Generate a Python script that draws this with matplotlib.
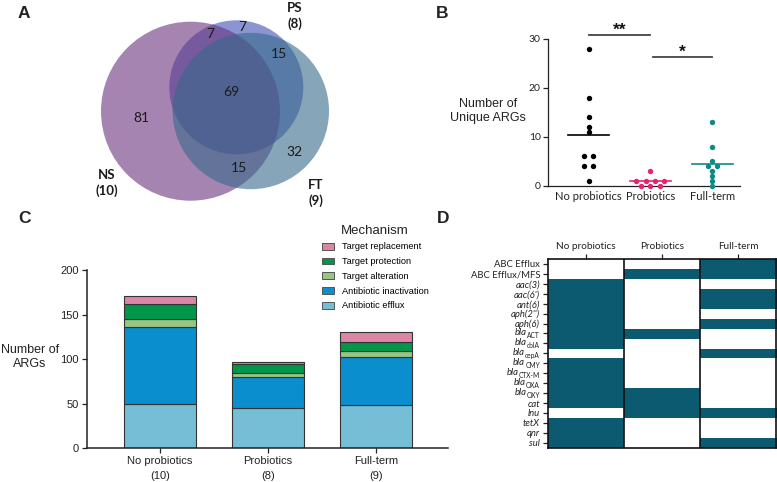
import numpy as np
import matplotlib
matplotlib.use("Agg")
import matplotlib.pyplot as plt
from matplotlib.patches import Circle, Patch
from matplotlib.colors import ListedColormap

plt.rcParams['font.family'] = ['Lato', 'DejaVu Sans']

W, H = 777, 482

# --- A: Venn diagram of shared ARGs
venn_sets = ['NS', 'PS', 'FT']
venn_sizes = [10, 8, 9]
venn_regions = ['NS', 'NS&PS', 'PS', 'NS&PS&FT', 'PS&FT', 'NS&FT', 'FT']
venn_counts = [81, 7, 7, 69, 15, 15, 32]

# --- B: unique ARGs per infant
groups = ['No probiotics', 'Probiotics', 'Full-term']
unique_np = [28, 18, 14, 12, 11, 6, 6, 4, 4, 1]
unique_pro = [3, 1, 1, 1, 1, 0, 0, 0]
unique_ft = [13, 8, 5, 4, 4, 3, 2, 1, 0]

# --- C: ARGs by mechanism
group_n = [10, 8, 9]
mechanisms = ['Antibiotic efflux', 'Antibiotic inactivation', 'Target alteration',
              'Target protection', 'Target replacement']
efflux = [50, 45, 49]
inactivation = [86, 35, 53]
alteration = [9, 5, 7]
protection = [17, 9, 10]
replacement = [9, 3, 11]

# --- D: presence / absence of ARG families
genes = ['ABC Efflux', 'ABC Efflux/MFS', 'aac(3)', "aac(6')", 'ant(6)', "aph(2'')",
         'aph(6)', 'blaACT', 'blacblA', 'blacepA', 'blaCMY', 'blaCTX-M', 'blaOXA',
         'blaOXY', 'cat', 'lnu', 'tetX', 'qnr', 'sul']
present_np = [0, 0, 1, 1, 1, 1, 1, 1, 1, 0, 1, 1, 1, 1, 1, 0, 1, 1, 1]
present_pro = [0, 1, 0, 0, 0, 0, 0, 1, 0, 0, 0, 0, 0, 1, 1, 1, 0, 0, 0]
present_ft = [1, 1, 0, 1, 1, 0, 1, 0, 0, 1, 0, 0, 0, 0, 0, 1, 0, 0, 1]

fig = plt.figure(figsize=(W / 100, H / 100), dpi=100)


def px_axes(x0, y0, x1, y1):
    return fig.add_axes([x0 / W, 1 - y1 / H, (x1 - x0) / W, (y1 - y0) / H])


def panel_label(x, y, s):
    fig.text(x / W, 1 - y / H, s, fontsize=12.5, fontweight='bold', va='top',
             family='Liberation Sans', color='#222222')


# ---------------- A
axA = px_axes(0, 0, 400, 215)
axA.set_xlim(0, 400)
axA.set_ylim(215, 0)
axA.axis('off')
circ = {'PS': ((236.3, 87.3), 67, '#192DA5', 0.5, 1),
        'NS': ((190.5, 111.2), 89.5, '#69327F', 0.6, 2),
        'FT': ((250.8, 111.0), 78.2, '#37698A', 0.6, 3)}
for name in venn_sets:
    c, r, col, a, z = circ[name]
    axA.add_patch(Circle(c, r, facecolor=col, alpha=a, edgecolor='none', zorder=z))
region_xy = {'NS': (141, 118), 'NS&PS': (210.7, 33.5), 'PS': (242, 27),
             'NS&PS&FT': (231.7, 92), 'PS&FT': (278.7, 53.5), 'NS&FT': (239, 168.5),
             'FT': (294, 151.5)}
for reg, cnt in zip(venn_regions, venn_counts):
    x, y = region_xy[reg]
    axA.text(x, y, str(cnt), ha='center', va='center', fontsize=10, color='#1a1a1a', zorder=5)
set_xy = {'NS': (107, 183), 'PS': (295, 16), 'FT': (316, 193)}
for name, n in zip(venn_sets, venn_sizes):
    x, y = set_xy[name]
    axA.text(x, y, f'{name}\n({n})', ha='center', va='center', fontsize=9.5,
             fontweight='bold', color='#1a1a1a', linespacing=1.25, zorder=5)
panel_label(18, 6, 'A')

# ---------------- B
b_colors = ['black', '#E8226F', '#0E8A84']
axB = px_axes(547.7, 39, 740, 185.7)
for i, (vals, col) in enumerate(zip([unique_np, unique_pro, unique_ft], b_colors)):
    vals = np.array(vals)
    xs = np.zeros(len(vals))
    for v in np.unique(vals):
        idx = np.where(vals == v)[0]
        xs[idx] = (np.arange(len(idx)) - (len(idx) - 1) / 2) * 0.15
    axB.scatter(i + xs, vals, s=15, color=col, linewidths=0, zorder=3, clip_on=False)
    m = vals.mean()
    axB.plot([i - 0.33, i + 0.33], [m, m], color=col, lw=1.2, zorder=2)
axB.set_xlim(-0.66, 2.45)
axB.set_ylim(0, 30)
axB.set_yticks([0, 10, 20, 30])
axB.set_xticks(range(3))
axB.set_xticklabels(groups, fontsize=8, color='#222222')
axB.tick_params(axis='x', length=0, pad=4)
axB.tick_params(axis='y', length=3.5, width=0.9, labelsize=7.5, pad=1.5, colors='#222222')
for s in ['top', 'right']:
    axB.spines[s].set_visible(False)
for s in ['left', 'bottom']:
    axB.spines[s].set_linewidth(0.9)
    axB.spines[s].set_color('#222222')
axB.plot([0, 1], [30.9, 30.9], color='#444444', lw=1.3, clip_on=False)
axB.plot([1.05, 2.0], [26.4, 26.4], color='#444444', lw=1.3, clip_on=False)
axB.text(0.5, 30.9, '**', ha='center', va='baseline', fontsize=12.5, fontweight='bold',
         family='Liberation Sans', color='#111111')
axB.text(1.52, 26.4, '*', ha='center', va='baseline', fontsize=12.5, fontweight='bold',
         family='Liberation Sans', color='#111111')
fig.text(488 / W, 1 - 111 / H, 'Number of\nUnique ARGs', ha='center', va='center',
         fontsize=9, family='Liberation Sans', color='#222222', linespacing=1.15)
panel_label(436, 6, 'B')

# ---------------- C
c_colors = ['#76BED6', '#0A8ECE', '#98C583', '#00974A', '#DC86A7']
axC = px_axes(86.7, 270, 448, 448.3)
bottom = np.zeros(3)
for vals, col in zip([efflux, inactivation, alteration, protection, replacement], c_colors):
    axC.bar(range(3), vals, bottom=bottom, width=0.66, color=col,
            edgecolor='#333333', linewidth=0.8, zorder=2)
    bottom += np.array(vals)
axC.set_xlim(-0.68, 2.667)
axC.set_ylim(0, 200)
axC.set_yticks([0, 50, 100, 150, 200])
axC.set_xticks(range(3))
axC.set_xticklabels([f'{g}\n({n})' for g, n in zip(groups, group_n)],
                    fontsize=8, family='Liberation Sans', linespacing=1.6)
for lbl in axC.get_yticklabels():
    lbl.set_family('Liberation Sans')
axC.tick_params(axis='both', length=3.5, width=0.9, labelsize=8, pad=2, colors='#222222')
for s in ['top', 'right']:
    axC.spines[s].set_visible(False)
for s in ['left', 'bottom']:
    axC.spines[s].set_linewidth(1.1)
    axC.spines[s].set_color('#222222')
fig.text(30 / W, 1 - 357 / H, 'Number of\nARGs', ha='center', va='center',
         fontsize=9, family='Liberation Sans', color='#222222', linespacing=1.15)
handles = [Patch(facecolor=c, edgecolor='#555555', linewidth=0.7, label=m)
           for m, c in zip(mechanisms[::-1], c_colors[::-1])]
leg = axC.legend(handles=handles, title='Mechanism', loc='upper left',
                 bbox_to_anchor=(317 / W, 1 - 220 / H), bbox_transform=fig.transFigure,
                 frameon=False, borderpad=0, handlelength=1.3, handleheight=0.75,
                 handletextpad=0.85, labelspacing=0.62,
                 prop={'family': 'Liberation Sans', 'size': 6.7},
                 title_fontproperties={'family': 'Liberation Sans', 'size': 9.5})
leg.get_title().set_color('#222222')
panel_label(18, 211, 'C')

# ---------------- D
mat = np.array([present_np, present_pro, present_ft]).T
axD = px_axes(547.7, 259, 776, 447.7)
axD.imshow(mat, cmap=ListedColormap(['white', '#0B5A70']), aspect='auto',
           interpolation='nearest', vmin=0, vmax=1)
for xv in [0.5, 1.5]:
    axD.axvline(xv, color='#111111', lw=1.2)
axD.set_yticks(range(len(genes)))
# bla genes get their label drawn below as "bla" + subscript
axD.set_yticklabels(['' if g.startswith('bla') else g for g in genes], fontsize=6.8)
for lbl, g in zip(axD.get_yticklabels(), genes):
    if not g.startswith('ABC'):
        lbl.set_fontstyle('italic')
axD.xaxis.tick_top()
axD.set_xticks(range(3))
axD.set_xticklabels(groups, fontsize=7.2)
axD.tick_params(axis='both', length=3.5, width=0.9, pad=2, colors='#222222')
for s in axD.spines.values():
    s.set_linewidth(1.2)
    s.set_color('#111111')

fig.canvas.draw()
rend = fig.canvas.get_renderer()
for i, g in enumerate(genes):
    if not g.startswith('bla'):
        continue
    sub = axD.annotate(g[3:], xy=(0, i), xycoords=('axes fraction', 'data'),
                       xytext=(-5.5, -1.8), textcoords='offset points',
                       ha='right', va='center', fontsize=4.8, color='#222222')
    w = sub.get_window_extent(rend).width * 72 / fig.dpi
    axD.annotate('bla', xy=(0, i), xycoords=('axes fraction', 'data'),
                 xytext=(-5.5 - w - 0.2, 0.4), textcoords='offset points',
                 ha='right', va='center', fontsize=6.8, fontstyle='italic', color='#222222')
panel_label(437, 211, 'D')

fig.savefig('out.png', dpi=100)
